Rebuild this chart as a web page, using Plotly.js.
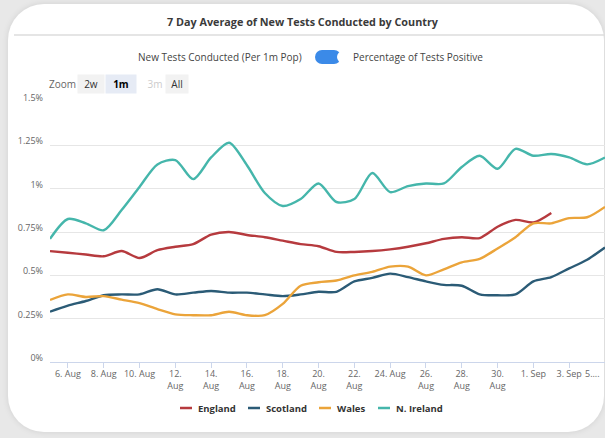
<!DOCTYPE html>
<html>
<head>
<meta charset="utf-8">
<script src="https://cdn.plot.ly/plotly-3.0.1.min.js"></script>
<style>
html,body{margin:0;padding:0;width:605px;height:438px;overflow:hidden;background:#e8e8e8;}
#card{position:absolute;left:8px;top:4px;width:596px;height:428px;background:#fff;border-radius:36px;box-shadow:0 0 6px rgba(0,0,0,0.10);}
#toggle{position:absolute;left:315px;top:50px;width:26px;height:14px;border-radius:7px;background:#3b8ae8;}
#knob{position:absolute;left:337px;top:51px;width:12px;height:12px;border-radius:6px;background:#fff;}
#chart{position:absolute;left:0;top:0;width:605px;height:438px;}
</style>
</head>
<body>
<div id="card"></div>
<div id="toggle"></div>
<div id="knob"></div>
<div id="chart"></div>
<script>
const dates = ["2020-08-05","2020-08-06","2020-08-07","2020-08-08","2020-08-09","2020-08-10",
  "2020-08-11","2020-08-12","2020-08-13","2020-08-14","2020-08-15","2020-08-16","2020-08-17",
  "2020-08-18","2020-08-19","2020-08-20","2020-08-21","2020-08-22","2020-08-23","2020-08-24",
  "2020-08-25","2020-08-26","2020-08-27","2020-08-28","2020-08-29","2020-08-30","2020-08-31",
  "2020-09-01","2020-09-02","2020-09-03","2020-09-04","2020-09-05"];

const england = [0.64,0.63,0.62,0.61,0.64,0.60,0.645,0.665,0.68,0.735,0.75,0.733,0.72,0.70,0.68,
  0.668,0.635,0.635,0.64,0.65,0.665,0.685,0.71,0.72,0.715,0.78,0.82,0.805,0.86];
const scotland = [0.29,0.325,0.352,0.385,0.39,0.39,0.42,0.39,0.40,0.41,0.40,0.40,0.39,0.38,0.39,
  0.405,0.405,0.465,0.485,0.51,0.49,0.465,0.445,0.44,0.39,0.385,0.39,0.465,0.49,0.54,0.59,0.66];
const wales = [0.358,0.39,0.375,0.38,0.36,0.34,0.305,0.275,0.27,0.27,0.29,0.27,0.27,0.335,0.44,
  0.46,0.47,0.50,0.52,0.55,0.55,0.50,0.535,0.575,0.595,0.655,0.72,0.80,0.80,0.83,0.835,0.895];
const nIreland = [0.71,0.825,0.80,0.76,0.877,1.01,1.14,1.165,1.055,1.18,1.265,1.135,0.975,0.90,
  0.94,1.03,0.923,0.94,1.09,0.98,1.015,1.03,1.03,1.125,1.19,1.115,1.23,1.19,1.20,1.18,1.14,1.18];

const seriesNames = ["England","Scotland","Wales","N. Ireland"];
const seriesColors = ["#b63a3e","#2b5b76","#eba43a","#45b6ab"];

const xTickVals = ["2020-08-06","2020-08-08","2020-08-10","2020-08-12","2020-08-14","2020-08-16",
  "2020-08-18","2020-08-20","2020-08-22","2020-08-24","2020-08-26","2020-08-28","2020-08-30",
  "2020-09-01","2020-09-03"];
const xTickLabels = ["6. Aug","8. Aug","10. Aug","12.<br>Aug","14.<br>Aug","16.<br>Aug",
  "18.<br>Aug","20.<br>Aug","22.<br>Aug","24. Aug","26.<br>Aug","28.<br>Aug","30.<br>Aug",
  "1. Sep","3. Sep"];
const lastTickLabel = "5....";   // truncated "5. Sep" label at the cut-off right edge
const yTickVals = [0,0.25,0.5,0.75,1,1.25,1.5];
const yTickLabels = ["0%","0.25%","0.5%","0.75%","1%","1.25%","1.5%"];

const allValues = [england, scotland, wales, nIreland];
const traces = allValues.map((vals, i) => ({
  type: "scatter",
  mode: "lines",
  name: seriesNames[i],
  x: dates.slice(0, vals.length),
  y: vals,
  line: {color: seriesColors[i], width: 2.4, shape: "spline", smoothing: 0.8},
  showlegend: false
}));

const FONT = "'Open Sans', 'Noto Sans', sans-serif";
// pixel -> paper helpers for fixed 605x438 layout (plot area x 50..605, y 102..362)
const px = v => (v - 50) / 555;
const py = v => (362 - v) / 260;

const shapes = [
  {type: "line", xref: "paper", yref: "paper", x0: px(14), x1: px(605), y0: py(35), y1: py(35),
    line: {color: "#dddddd", width: 1.5}}
];
const annotations = [
  {text: "New Tests Conducted (Per 1m Pop)", xref: "paper", yref: "paper", x: px(220), y: py(57),
    xanchor: "center", yanchor: "middle", showarrow: false, font: {family: FONT, size: 10, color: "#444"}},
  {text: "Percentage of Tests Positive", xref: "paper", yref: "paper", x: px(418), y: py(57),
    xanchor: "center", yanchor: "middle", showarrow: false, font: {family: FONT, size: 10, color: "#444"}},
  {text: "Zoom", xref: "paper", yref: "paper", x: px(62), y: py(84),
    xanchor: "center", yanchor: "middle", showarrow: false, font: {family: FONT, size: 10, color: "#666"}},
  {text: "2w", xref: "paper", yref: "paper", x: px(91), y: py(84), width: 24, height: 16,
    bgcolor: "#f2f2f2", xanchor: "center", yanchor: "middle", showarrow: false,
    font: {family: FONT, size: 10, color: "#333"}},
  {text: "<b>1m</b>", xref: "paper", yref: "paper", x: px(121), y: py(84), width: 28, height: 16,
    bgcolor: "#e6ebf5", xanchor: "center", yanchor: "middle", showarrow: false,
    font: {family: FONT, size: 10, color: "#000"}},
  {text: "3m", xref: "paper", yref: "paper", x: px(155), y: py(84), width: 20, height: 16,
    xanchor: "center", yanchor: "middle", showarrow: false,
    font: {family: FONT, size: 10, color: "#cccccc"}},
  {text: "All", xref: "paper", yref: "paper", x: px(177), y: py(84), width: 20, height: 16,
    bgcolor: "#f2f2f2", xanchor: "center", yanchor: "middle", showarrow: false,
    font: {family: FONT, size: 10, color: "#333"}},
  {text: lastTickLabel, xref: "paper", yref: "paper", x: px(602), y: py(373),
    xanchor: "right", yanchor: "middle", showarrow: false,
    font: {family: FONT, size: 9, color: "#666"}}
];

// legend drawn as line swatches + bold labels, centred under the plot
const legendStarts = [180, 248, 319, 378];
seriesNames.forEach((name, i) => {
  const s = legendStarts[i];
  shapes.push({type: "line", xref: "paper", yref: "paper", x0: px(s), x1: px(s + 12),
    y0: py(408), y1: py(408), line: {color: seriesColors[i], width: 2.5}});
  annotations.push({text: "<b>" + name + "</b>", xref: "paper", yref: "paper", x: px(s + 16), y: py(408),
    xanchor: "left", yanchor: "middle", showarrow: false,
    font: {family: FONT, size: 9.5, color: "#333"}});
});

const layout = {
  width: 605, height: 438,
  margin: {l: 50, r: 0, t: 102, b: 76},
  paper_bgcolor: "rgba(0,0,0,0)",
  plot_bgcolor: "rgba(0,0,0,0)",
  font: {family: FONT, color: "#666"},
  title: {text: "<b>7 Day Average of New Tests Conducted by Country</b>",
    x: 0.5, xanchor: "center", y: 1 - 22/438, yanchor: "middle",
    font: {family: FONT, size: 10.8, color: "#3a3a3a"}},
  showlegend: false,
  xaxis: {
    type: "date",
    range: ["2020-08-05", "2020-09-05"],
    tickmode: "array", tickvals: xTickVals, ticktext: xTickLabels,
    ticks: "outside", ticklen: 5, tickcolor: "#ccd6eb", tickwidth: 1,
    ticklabelstandoff: -2,
    showgrid: false, showline: true, linecolor: "#ccd6eb", linewidth: 1,
    tickfont: {family: FONT, size: 9, color: "#666"},
    tickangle: 0, zeroline: false, fixedrange: true
  },
  yaxis: {
    range: [0, 1.5],
    tickmode: "array", tickvals: yTickVals, ticktext: yTickLabels,
    showgrid: true, gridcolor: "#e6e6e6", gridwidth: 1,
    zeroline: false, showline: false, ticks: "",
    ticklabelstandoff: 6, ticklabelshift: -4,
    tickfont: {family: FONT, size: 9, color: "#666"}, fixedrange: true
  },
  shapes: shapes,
  annotations: annotations
};

Plotly.newPlot("chart", traces, layout, {displayModeBar: false, staticPlot: true});
</script>
</body>
</html>
